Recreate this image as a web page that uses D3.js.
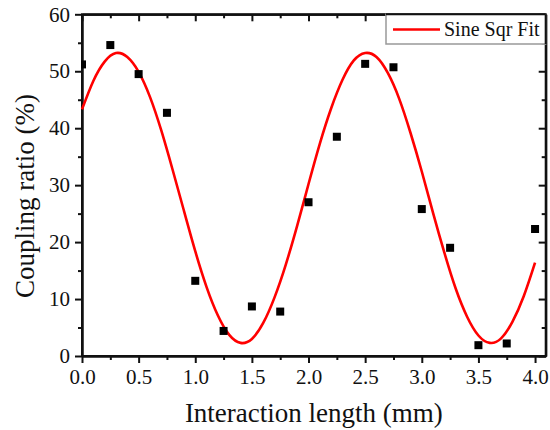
<!DOCTYPE html>
<html>
<head>
<meta charset="utf-8">
<script src="https://cdn.jsdelivr.net/npm/d3@7"></script>
<style>
  html, body { margin: 0; padding: 0; background: #fff; }
  svg { display: block; }
  text { font-family: "Liberation Serif", "Times New Roman", serif; fill: #111; }
</style>
</head>
<body>
<svg id="chart" width="550" height="430"></svg>
<script>
// Measured coupling ratio (%) against interaction length (mm)
const lengths = [0, 0.25, 0.5, 0.75, 1.0, 1.25, 1.5, 1.75, 2.0, 2.25, 2.5, 2.75, 3.0, 3.25, 3.5, 3.75, 4.0];
const ratios  = [51.2, 54.6, 49.5, 42.7, 13.2, 4.4, 8.7, 7.8, 27.0, 38.5, 51.3, 50.7, 25.8, 19.0, 1.9, 2.2, 22.3];

// Sine-squared fit curve, sampled every 0.1 mm
const fitX = [0.0, 0.1, 0.2, 0.3, 0.4, 0.5, 0.6, 0.7, 0.8, 0.9, 1.0, 1.1, 1.2, 1.3, 1.4, 1.5, 1.6, 1.7, 1.8, 1.9, 2.0,
              2.1, 2.2, 2.3, 2.4, 2.5, 2.6, 2.7, 2.8, 2.9, 3.0, 3.1, 3.2, 3.3, 3.4, 3.5, 3.6, 3.7, 3.8, 3.9, 4.0];
const fitY = [43.3, 48.3, 51.7, 53.2, 52.5, 49.9, 45.5, 39.6, 32.7, 25.5, 18.4, 12.1, 7.1, 3.7, 2.3, 3.0, 5.8, 10.3, 16.1, 22.9, 30.2,
              37.3, 43.5, 48.5, 51.9, 53.2, 52.5, 49.7, 45.2, 39.2, 32.4, 25.1, 18.1, 11.8, 6.9, 3.6, 2.3, 3.1, 6.0, 10.5, 16.4];

const xMajor = [0, 0.5, 1.0, 1.5, 2.0, 2.5, 3.0, 3.5, 4.0];
const xMinor = [0.25, 0.75, 1.25, 1.75, 2.25, 2.75, 3.25, 3.75];
const yMajor = [0, 10, 20, 30, 40, 50, 60];
const yMinor = [5, 15, 25, 35, 45, 55];

const seriesName = "Sine Sqr Fit";
const xTitle = "Interaction length (mm)";
const yTitle = "Coupling ratio (%)";

const svg = d3.select("#chart");
const L = 82, R = 545.7, T = 14.3, B = 356;

const x = d3.scaleLinear().domain([0, 4.094]).range([L, R]);
const y = d3.scaleLinear().domain([0, 60]).range([B, T]);

const MAJ = 7, MIN = 4;

function styleAxis(g) {
  g.selectAll(".domain").attr("stroke", "#111").attr("stroke-width", 2);
  g.selectAll(".tick line").attr("stroke", "#111").attr("stroke-width", 2);
  g.selectAll(".tick text").style("font-size", "21px").attr("fill", "#111")
    .style("font-family", '"Liberation Serif", "Times New Roman", serif');
}

// frame lines
svg.append("rect")
  .attr("x", L).attr("y", T).attr("width", R - L).attr("height", B - T)
  .attr("fill", "none").attr("stroke", "#111").attr("stroke-width", 2);

// bottom axis
svg.append("g").attr("transform", `translate(0,${B})`)
  .call(d3.axisBottom(x).tickValues(xMajor).tickFormat(d3.format(".1f"))
    .tickSize(MAJ).tickSizeOuter(0).tickPadding(6))
  .call(styleAxis);
svg.append("g").attr("transform", `translate(0,${B})`)
  .call(d3.axisBottom(x).tickValues(xMinor).tickFormat("").tickSize(MIN).tickSizeOuter(0))
  .call(styleAxis);

// top axis (inward ticks)
svg.append("g").attr("transform", `translate(0,${T})`)
  .call(d3.axisBottom(x).tickValues(xMajor).tickFormat("").tickSize(MAJ).tickSizeOuter(0))
  .call(styleAxis);
svg.append("g").attr("transform", `translate(0,${T})`)
  .call(d3.axisBottom(x).tickValues(xMinor).tickFormat("").tickSize(MIN).tickSizeOuter(0))
  .call(styleAxis);

// left axis
svg.append("g").attr("transform", `translate(${L},0)`)
  .call(d3.axisLeft(y).tickValues(yMajor).tickFormat(d3.format("d"))
    .tickSize(MAJ).tickSizeOuter(0).tickPadding(5))
  .call(styleAxis);
svg.append("g").attr("transform", `translate(${L},0)`)
  .call(d3.axisLeft(y).tickValues(yMinor).tickFormat("").tickSize(MIN).tickSizeOuter(0))
  .call(styleAxis);

// right axis (inward ticks)
svg.append("g").attr("transform", `translate(${R},0)`)
  .call(d3.axisLeft(y).tickValues(yMajor).tickFormat("").tickSize(MAJ).tickSizeOuter(0))
  .call(styleAxis);
svg.append("g").attr("transform", `translate(${R},0)`)
  .call(d3.axisLeft(y).tickValues(yMinor).tickFormat("").tickSize(MIN).tickSizeOuter(0))
  .call(styleAxis);

// clip region for the marks
svg.append("clipPath").attr("id", "plotClip")
  .append("rect").attr("x", L - 1).attr("y", T).attr("width", R - L + 1).attr("height", B - T);

const marks = svg.append("g").attr("clip-path", "url(#plotClip)");

// fit curve
const line = d3.line()
  .x(d => x(d[0])).y(d => y(d[1]))
  .curve(d3.curveNatural);
marks.append("path")
  .datum(fitX.map((v, i) => [v, fitY[i]]))
  .attr("d", line)
  .attr("fill", "none")
  .attr("stroke", "#ff0000")
  .attr("stroke-width", 2.6);

// measured points
const S = 8;
marks.selectAll("rect.pt")
  .data(lengths.map((v, i) => [v, ratios[i]]))
  .join("rect")
  .attr("class", "pt")
  .attr("x", d => x(d[0]) - S / 2)
  .attr("y", d => y(d[1]) - S / 2)
  .attr("width", S).attr("height", S)
  .attr("fill", "#000");

// legend
const lg = svg.append("g");
lg.append("rect")
  .attr("x", 386).attr("y", T).attr("width", R - 386).attr("height", 44 - T)
  .attr("fill", "#fff").attr("stroke", "#999").attr("stroke-width", 1.5);
lg.append("line")
  .attr("x1", 393).attr("x2", 440).attr("y1", 29.5).attr("y2", 29.5)
  .attr("stroke", "#ff0000").attr("stroke-width", 2.6);
lg.append("text")
  .attr("x", 444).attr("y", 36)
  .style("font-size", "20px")
  .text(seriesName);
// redraw the frame edges the legend box sits on
svg.append("line").attr("x1", 386).attr("x2", R).attr("y1", T).attr("y2", T)
  .attr("stroke", "#111").attr("stroke-width", 2);
svg.append("line").attr("x1", R).attr("x2", R).attr("y1", T).attr("y2", 44)
  .attr("stroke", "#111").attr("stroke-width", 2);

// axis titles
svg.append("text")
  .attr("x", (L + R) / 2).attr("y", 422)
  .attr("text-anchor", "middle")
  .style("font-size", "27px")
  .text(xTitle);

svg.append("text")
  .attr("transform", "translate(34,196) rotate(-90)")
  .attr("text-anchor", "middle")
  .style("font-size", "27px")
  .text(yTitle);
</script>
</body>
</html>
